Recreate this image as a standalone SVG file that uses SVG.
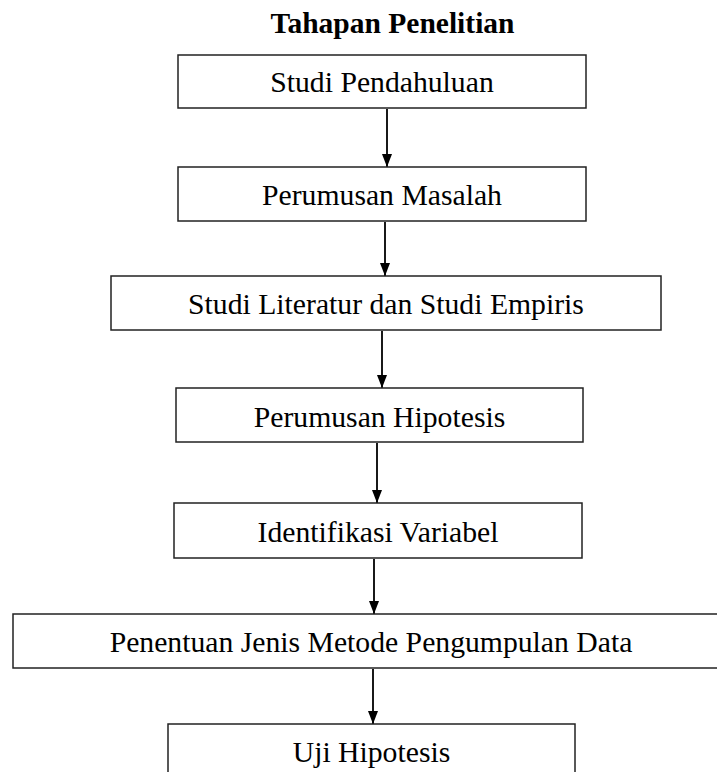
<svg xmlns="http://www.w3.org/2000/svg" width="717" height="772" viewBox="0 0 717 772">
<style>
.box{fill:#fff;stroke:#222;stroke-width:1.5}
.lbl{font-family:"Liberation Serif","Times New Roman",serif;font-size:29.7px;fill:#000;text-anchor:middle}
.title{font-family:"Liberation Serif","Times New Roman",serif;font-size:29.5px;font-weight:bold;fill:#000;text-anchor:middle}
.arr{stroke:#000;stroke-width:1.8;fill:none;marker-end:url(#ah)}
</style>
<defs>
<marker id="ah" viewBox="0 0 13 10" refX="13" refY="5" markerWidth="13" markerHeight="10" markerUnits="userSpaceOnUse" orient="auto">
<path d="M0,0 L13,5 L0,10 z" fill="#000"/>
</marker>
</defs>
<rect width="717" height="772" fill="#fff"/>
<text id="title" class="title" x="392.5" y="33">Tahapan Penelitian</text>
<g id="connectors">
<line class="arr" x1="387" y1="109" x2="387" y2="167"/>
<line class="arr" x1="385" y1="222" x2="385" y2="276"/>
<line class="arr" x1="382" y1="331" x2="382" y2="388"/>
<line class="arr" x1="377" y1="443" x2="377" y2="503"/>
<line class="arr" x1="374" y1="559" x2="374" y2="614"/>
<line class="arr" x1="373" y1="669" x2="373" y2="724"/>
</g>
<g id="n1"><rect class="box" x="178" y="55" width="408" height="53"/><text class="lbl" x="382" y="92">Studi Pendahuluan</text></g>
<g id="n2"><rect class="box" x="178" y="167" width="408" height="54"/><text class="lbl" x="382" y="205">Perumusan Masalah</text></g>
<g id="n3"><rect class="box" x="111" y="276" width="550" height="54"/><text class="lbl" x="386" y="314">Studi Literatur dan Studi Empiris</text></g>
<g id="n4"><rect class="box" x="176" y="388" width="407" height="54"/><text class="lbl" x="379.5" y="427">Perumusan Hipotesis</text></g>
<g id="n5"><rect class="box" x="174" y="503" width="408" height="55"/><text class="lbl" x="378" y="542">Identifikasi Variabel</text></g>
<g id="n6"><rect class="box" x="13" y="614" width="720" height="54"/><text class="lbl" x="371" y="652">Penentuan Jenis Metode Pengumpulan Data</text></g>
<g id="n7"><rect class="box" x="168" y="724" width="407" height="60"/><text class="lbl" x="371.5" y="762">Uji Hipotesis</text></g>
</svg>
